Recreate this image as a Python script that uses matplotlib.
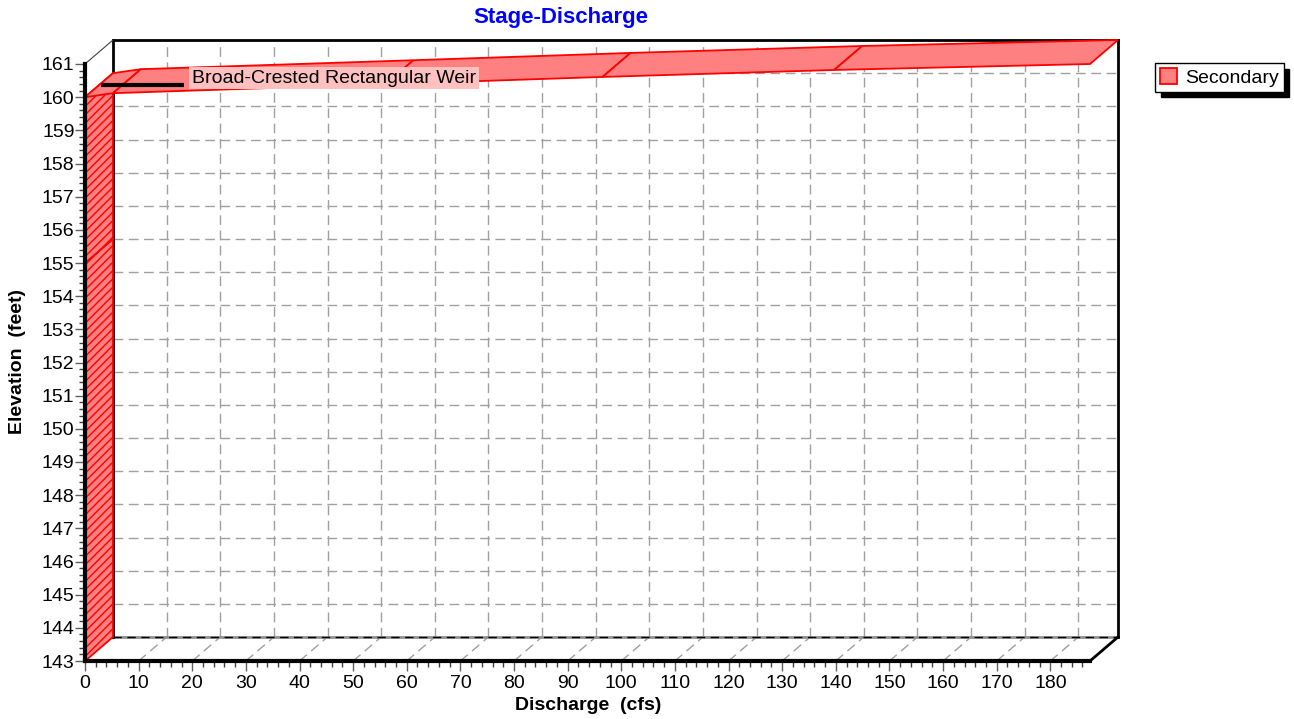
import numpy as np
import matplotlib
matplotlib.use("Agg")
import matplotlib.pyplot as plt
from matplotlib.patches import Polygon, Patch
from matplotlib.transforms import ScaledTranslation

plt.rcParams['font.family'] = ['Liberation Sans', 'DejaVu Sans']
plt.rcParams['hatch.linewidth'] = 1.0

# Stage-discharge curve (Secondary)
discharge = [0.0, 0.0, 0.0, 5.2, 56.0, 96.5, 139.7, 187.4]
elevation = [143.0, 155.0, 160.0, 160.12, 160.39, 160.61, 160.82, 161.0]

x_ticks = list(range(0, 181, 10))
y_ticks = list(range(143, 162))
x_max = 187.4

label_text = "Broad-Crested Rectangular Weir"
label_line_x = [3.0, 18.4]
label_y = 160.37

# depth of the fake 3D box, in pixels (right, up)
DEPTH = (28, 24)
RED_FILL = "#ff8080"

fig = plt.figure(figsize=(12.94, 7.19), dpi=100)
W, H = 1294, 719
ax = fig.add_axes([85 / W, (H - 661) / H, 1005 / W, 597 / H])
ax.set_xlim(0, x_max)
ax.set_ylim(143, 161)
ax.set_facecolor("none")

back_tr = ax.transData + ScaledTranslation(DEPTH[0] / 100, DEPTH[1] / 100, fig.dpi_scale_trans)


def to_back(xs, ys):
    pts = ax.transData.transform(np.column_stack([xs, ys])) + np.array(DEPTH)
    return ax.transData.inverted().transform(pts)


grid_kw = dict(color="#a0a0a0", lw=1, ls=(0, (7, 4)), clip_on=False, zorder=1)
# back wall grid
for xv in x_ticks[1:]:
    ax.plot([xv, xv], [143, 161], transform=back_tr, **grid_kw)
for yv in y_ticks[1:-1]:
    ax.plot([0, x_max], [yv, yv], transform=back_tr, **grid_kw)
# floor diagonals
for xv in x_ticks[1:]:
    b = to_back([xv], [143])[0]
    ax.plot([xv, b[0]], [143, b[1]], **grid_kw)

# back box frame
ax.plot([0, x_max], [143, 143], transform=back_tr, color="#909090", lw=2, clip_on=False, zorder=1)
ax.plot([0, x_max], [143, 143], transform=back_tr, color="black", lw=1, ls=(0, (6, 4)), clip_on=False, zorder=1)
ax.plot([0, 0], [143, 161], transform=back_tr, color="black", lw=2, clip_on=False, zorder=1)
ax.plot([0, x_max], [161, 161], transform=back_tr, color="black", lw=2, clip_on=False, zorder=1)
ax.plot([x_max, x_max], [143, 161], transform=back_tr, color="black", lw=2, clip_on=False, zorder=1)
b = to_back([x_max], [143])[0]
ax.plot([x_max, b[0]], [143, b[1]], color="black", lw=2, clip_on=False, zorder=1)
b = to_back([0], [161])[0]
ax.plot([0, b[0]], [161, b[1]], color="#404040", lw=0.8, clip_on=False, zorder=1)

# ribbon of the curve
bk = to_back(discharge, elevation)
for i in range(len(discharge) - 1):
    verts = [(discharge[i], elevation[i]), (discharge[i + 1], elevation[i + 1]),
             tuple(bk[i + 1]), tuple(bk[i])]
    side = discharge[i] == discharge[i + 1]
    poly = Polygon(verts, closed=True, facecolor=RED_FILL, edgecolor="red", lw=1.3,
                   hatch="////" if side else None, clip_on=False, zorder=2)
    ax.add_patch(poly)

# front axes
for s in ["top", "right"]:
    ax.spines[s].set_visible(False)
for s in ["left", "bottom"]:
    ax.spines[s].set_linewidth(3)
    ax.spines[s].set_zorder(3)
ax.set_xticks(x_ticks)
ax.set_yticks(y_ticks)
ax.set_xticks(np.arange(0, x_max, 2), minor=True)
ax.set_yticks(np.arange(143, 161.01, 0.2), minor=True)
ax.tick_params(which="major", length=7, width=1, color="#606060", labelsize=14)
ax.tick_params(axis="y", which="major", pad=0.5)
ax.tick_params(axis="x", which="major", pad=3)
ax.tick_params(which="minor", length=4, width=1, color="#404040")

# annotation
ax.plot(label_line_x, [label_y, label_y], color="black", lw=3, solid_capstyle="butt",
        clip_on=False, zorder=4)
ax.text(label_line_x[1] + 1.5, label_y + 0.07, label_text, fontsize=14, va="baseline", ha="left",
        zorder=5, bbox=dict(boxstyle="square,pad=0.14", facecolor="#ffc0c0", edgecolor="none"))

fig.text(561 / W, 1 - 18 / H, "Stage-Discharge", color="#0000ff", fontsize=16,
         fontweight="bold", ha="center", va="center")
fig.text(588 / W, 1 - 705 / H, "Discharge  (cfs)", fontsize=14, fontweight="bold",
         ha="center", va="center")
fig.text(18 / W, 1 - 361 / H, "Elevation  (feet)", fontsize=14, fontweight="bold",
         ha="center", va="center", rotation=90)

leg = fig.legend(handles=[Patch(facecolor=RED_FILL, edgecolor="red", lw=1.3, label="Secondary")],
                 loc="upper left", bbox_to_anchor=(1155 / W, 1 - 63 / H), fontsize=14,
                 fancybox=False, framealpha=1, edgecolor="black", borderpad=0.25,
                 handlelength=0.9, handleheight=0.9, handletextpad=0.4, borderaxespad=0,
                 shadow={"color": "black", "alpha": 1, "ox": 4, "oy": -4})
leg.get_frame().set_linewidth(1)

fig.savefig("out.png", dpi=100)
